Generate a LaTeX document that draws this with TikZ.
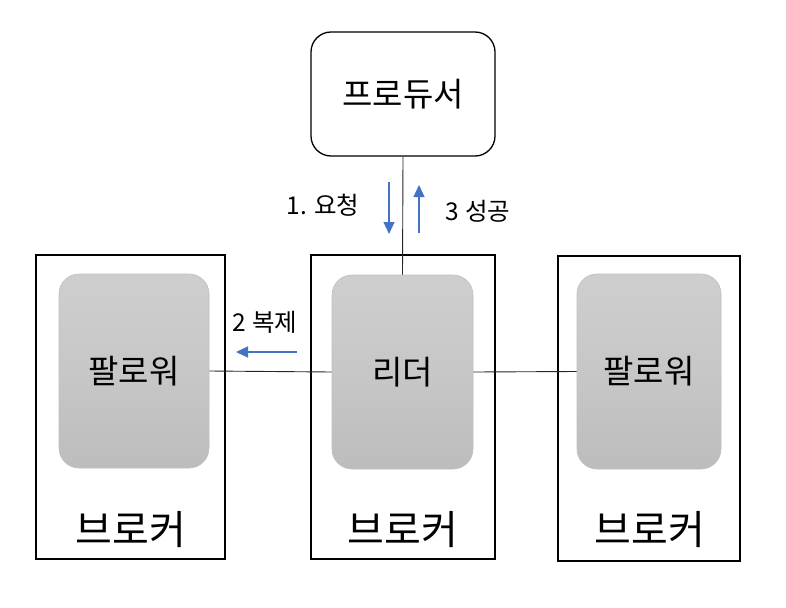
\documentclass[tikz,border=0pt]{standalone}
\usepackage{fontspec}
\setmainfont{Noto Sans CJK KR}
\usetikzlibrary{arrows.meta}
\definecolor{arrowblue}{HTML}{4472C4}
\tikzset{
  broker/.style={draw=black, line width=1.3pt, fill=white},
  inner/.style={draw=black!25, line width=0.6pt, rounded corners=20pt, top color=black!19, bottom color=black!26, middle color=black!22},
  prod/.style={draw=black, line width=1.3pt, rounded corners=20pt, fill=white},
  conn/.style={draw=black!85, line width=0.9pt},
  flow/.style={draw=arrowblue, line width=1.1pt, -{Triangle[length=12pt,width=11pt]}},
  lbl/.style={font=\fontsize{24.5}{26}\selectfont},
  big/.style={font=\fontsize{40}{44}\selectfont},
  mid/.style={font=\fontsize{33}{36}\selectfont}
}
\begin{document}
\begin{tikzpicture}[x=1pt,y=-1pt]
\useasboundingbox (0,0) rectangle (786,607);
% brokers
\draw[broker] (36,255) rectangle (225,559);
\draw[broker] (311,255) rectangle (495,559);
\draw[broker] (558,256) rectangle (740,561);
% producer
\node[prod, minimum width=184pt, minimum height=124pt, mid] (prod) at (403,94) {프로듀서};
% inner nodes
\node[inner, minimum width=150pt, minimum height=194pt, mid] (f1) at (134,371) {팔로워};
\node[inner, minimum width=141pt, minimum height=194pt, mid] (lead) at (402.5,372) {리더};
\node[inner, minimum width=144pt, minimum height=195pt, mid] (f2) at (649,371.5) {팔로워};
% broker labels
\node[big] (b1) at (131,530) {브로커};
\node[big] (b2) at (403,530) {브로커};
\node[big] (b3) at (650,530) {브로커};
% connectors
\draw[conn] (prod.south) -- (lead.north);
\draw[conn] (f1.east) -- (lead.west);
\draw[conn] (lead.east) -- (f2.west);
% flow arrows
\coordinate (a1s) at (389,182); \coordinate (a1e) at (389,234);
\coordinate (a3s) at (419,233); \coordinate (a3e) at (419,185);
\coordinate (a2s) at (297,352); \coordinate (a2e) at (236,352);
\draw[flow] (a1s) -- (a1e);
\draw[flow] (a3s) -- (a3e);
\draw[flow] (a2s) -- (a2e);
\node[lbl] (l1) at (323,205) {1. 요청};
\node[lbl] (l3) at (478,211) {3 성공};
\node[lbl] (l2) at (265,322) {2 복제};
\end{tikzpicture}
\end{document}
